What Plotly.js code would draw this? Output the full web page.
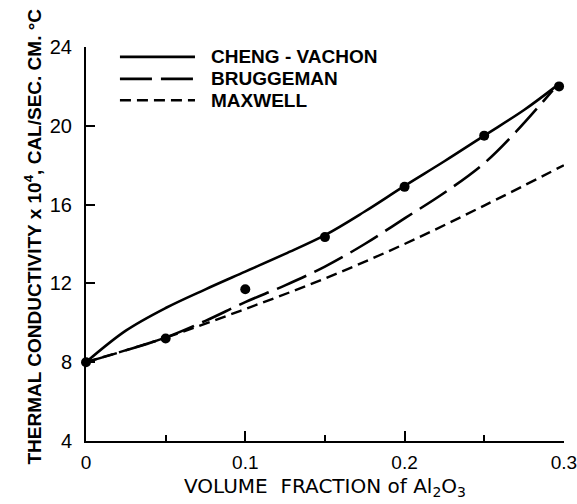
<!DOCTYPE html>
<html>
<head>
<meta charset="utf-8">
<script src="https://cdn.plot.ly/plotly-3.0.1.min.js"></script>
<style>html,body{margin:0;padding:0;background:#fff;}#chart{width:577px;height:504px;}</style>
</head>
<body>
<div id="chart"></div>
<script>
// Measured data points
const dataX = [0, 0.05, 0.1, 0.15, 0.2, 0.25, 0.297];
const dataY = [8, 9.2, 11.7, 14.35, 16.9, 19.5, 22.0];

// Cheng-Vachon (solid)
const chengX = [0, 0.025, 0.05, 0.075, 0.1, 0.125, 0.15, 0.175, 0.2, 0.225, 0.25, 0.275, 0.295];
const chengY = [8, 9.6, 10.75, 11.7, 12.6, 13.5, 14.45, 15.65, 16.95, 18.2, 19.5, 20.8, 22.0];

// Bruggeman (long dash)
const bruggX = [0, 0.025, 0.05, 0.075, 0.1, 0.125, 0.15, 0.175, 0.2, 0.225, 0.25, 0.27, 0.293];
const bruggY = [8, 8.6, 9.25, 10.1, 11.05, 11.9, 12.85, 14.0, 15.3, 16.6, 18.1, 19.7, 21.8];

// Maxwell (short dash)
const maxX = [0, 0.05, 0.1, 0.15, 0.2, 0.25, 0.3];
const maxY = [8, 9.25, 10.7, 12.25, 14.0, 15.95, 18.0];

const seriesNames = ["CHENG - VACHON", "BRUGGEMAN", "MAXWELL"];
const yTicks = [4, 8, 12, 16, 20, 24];
const xTicks = [0, 0.1, 0.2, 0.3];
const xTickText = ["0", "0.1", "0.2", "0.3"];

const black = "#000";
const fontFam = "Liberation Sans, Arial, sans-serif";
const wideFam = "DejaVu Sans, sans-serif";
const dashes = ["solid", "32px,9px", "11px,6px"];

const traces = [
  {x: chengX, y: chengY, mode: "lines", line: {color: black, width: 2.6, shape: "spline", dash: dashes[0]}, cliponaxis: false, showlegend: false},
  {x: bruggX, y: bruggY, mode: "lines", line: {color: black, width: 2.6, shape: "spline", dash: dashes[1]}, cliponaxis: false, showlegend: false},
  {x: maxX, y: maxY, mode: "lines", line: {color: black, width: 2.4, shape: "spline", dash: dashes[2]}, cliponaxis: false, showlegend: false},
  {x: dataX, y: dataY, mode: "markers", marker: {color: black, size: 10}, cliponaxis: false, showlegend: false}
];

// manual legend
const legY = [0.975, 0.919, 0.865];
const shapes = [];
const annotations = [];
seriesNames.forEach((n, i) => {
  shapes.push({type: "line", xref: "paper", yref: "paper", x0: 0.071, x1: 0.228, y0: legY[i], y1: legY[i],
    line: {color: black, width: 2.6, dash: dashes[i]}});
  annotations.push({xref: "paper", yref: "paper", x: 0.257, y: legY[i], xanchor: "left", yanchor: "middle",
    text: "<b>" + n + "</b>", showarrow: false, font: {family: fontFam, size: 19, color: black}});
});
annotations.push({xref: "paper", yref: "paper", x: -0.11, y: 0.52, xanchor: "center", yanchor: "middle",
  textangle: -90, showarrow: false,
  text: "<b>THERMAL CONDUCTIVITY x 10<sup>4</sup>, CAL/SEC. CM. °C</b>",
  font: {family: fontFam, size: 19, color: black}});
annotations.push({xref: "paper", yref: "paper", x: 0.5, y: -0.117, xanchor: "center", yanchor: "middle",
  showarrow: false,
  text: "VOLUME  FRACTION of Al<sub>2</sub>O<sub>3</sub>",
  font: {family: wideFam, size: 20, color: black}});

const layout = {
  width: 577, height: 504,
  margin: {l: 86, r: 13, t: 47, b: 63},
  paper_bgcolor: "#fff", plot_bgcolor: "#fff",
  showlegend: false,
  xaxis: {range: [0, 0.3001], tickvals: xTicks, ticktext: xTickText, ticks: "inside", ticklen: 10, tickwidth: 2,
    tickcolor: black, showline: true, linecolor: black, linewidth: 2, showgrid: false, zeroline: false,
    ticklabelstandoff: 3, ticklabeloverflow: "allow",
    tickfont: {family: fontFam, size: 19, color: black},
    minor: {dtick: 0.05, tick0: 0, ticks: "inside", ticklen: 6, tickwidth: 2, tickcolor: black, showgrid: false}},
  yaxis: {range: [4, 24], tickvals: yTicks, ticks: "inside", ticklen: 9, tickwidth: 2, tickcolor: black,
    showline: true, linecolor: black, linewidth: 2, showgrid: false, zeroline: false,
    ticklabelstandoff: 8, ticklabeloverflow: "allow",
    tickfont: {family: fontFam, size: 20, color: black}},
  shapes: shapes,
  annotations: annotations
};

Plotly.newPlot("chart", traces, layout, {displayModeBar: false, staticPlot: true});
</script>
</body>
</html>
